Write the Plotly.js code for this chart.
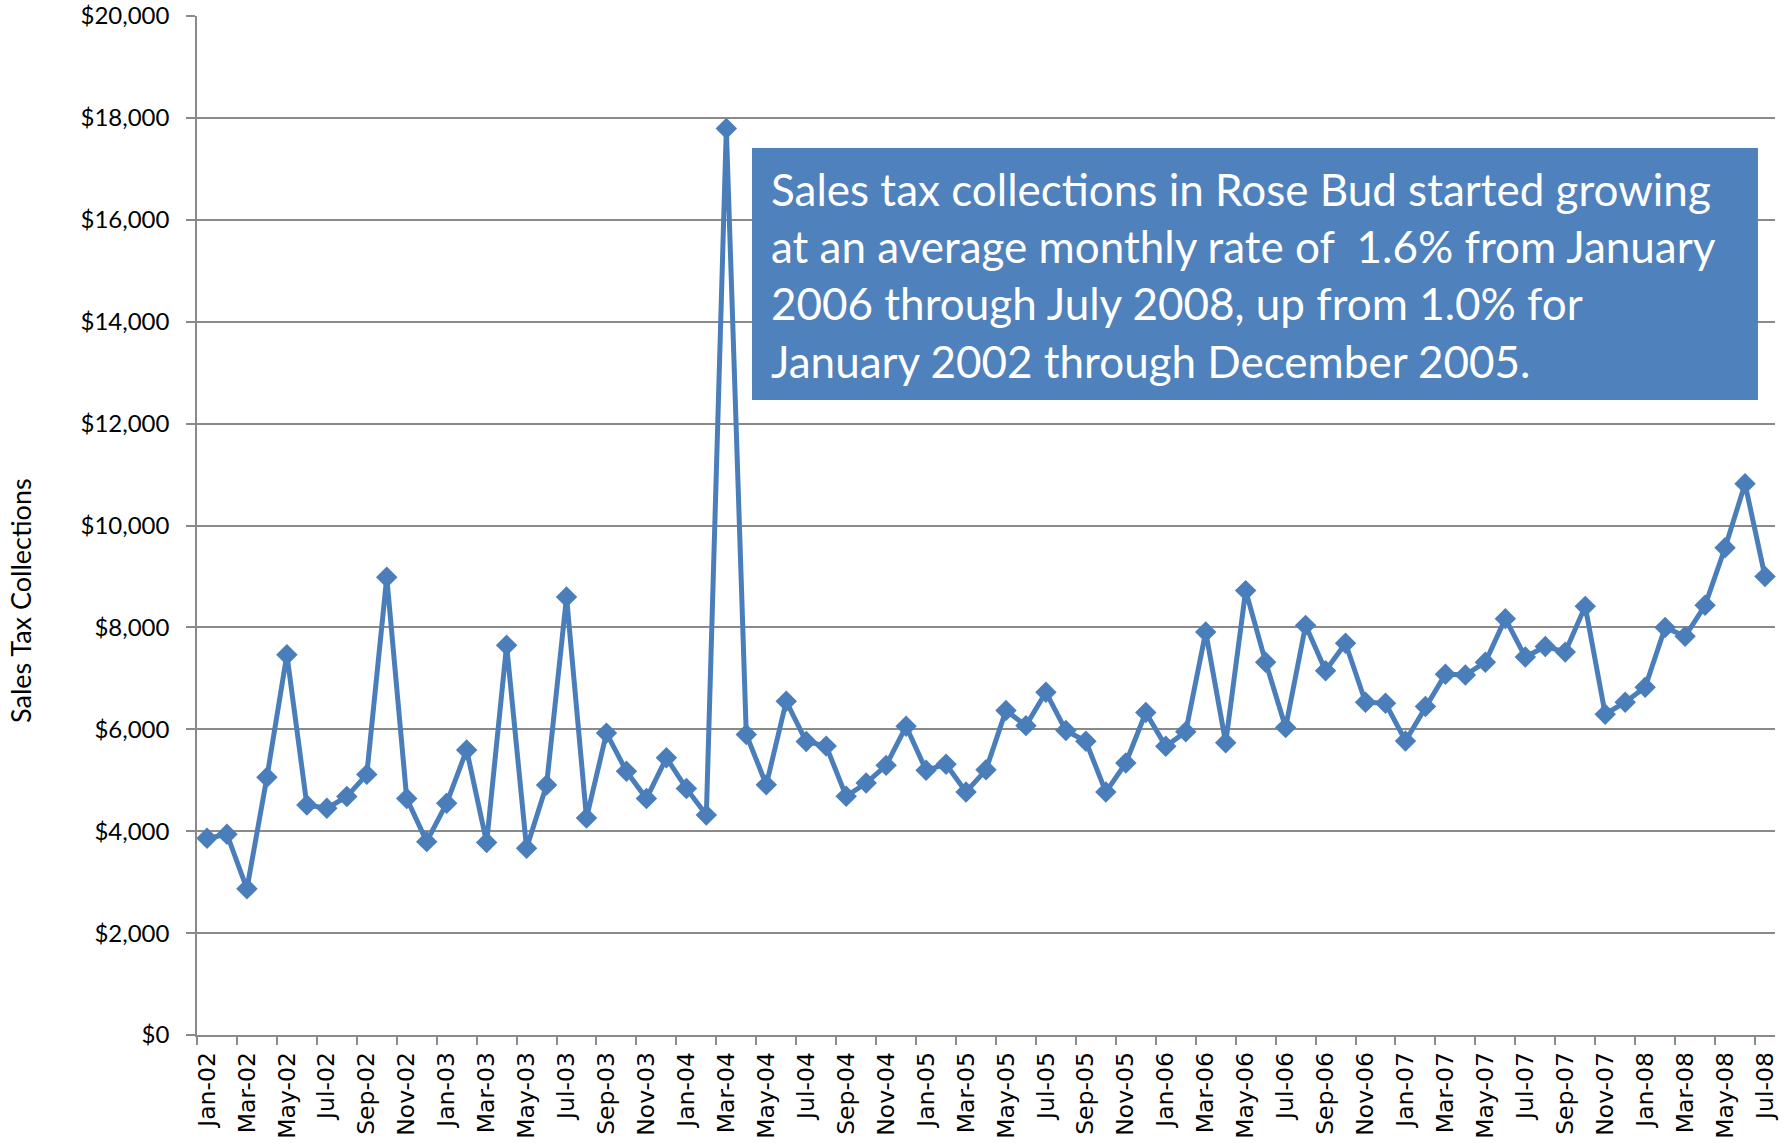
<!DOCTYPE html>
<html>
<head>
<meta charset="utf-8">
<script src="https://cdn.plot.ly/plotly-3.0.1.min.js"></script>
<style>
  html, body { margin: 0; padding: 0; background: #ffffff; }
  #chart { width: 1785px; height: 1144px; }
</style>
</head>
<body>
<div id="chart"></div>
<script>
// Monthly categories, Jan-02 .. Jul-08
const months = [
  "Jan-02","Feb-02","Mar-02","Apr-02","May-02","Jun-02","Jul-02","Aug-02","Sep-02","Oct-02","Nov-02","Dec-02",
  "Jan-03","Feb-03","Mar-03","Apr-03","May-03","Jun-03","Jul-03","Aug-03","Sep-03","Oct-03","Nov-03","Dec-03",
  "Jan-04","Feb-04","Mar-04","Apr-04","May-04","Jun-04","Jul-04","Aug-04","Sep-04","Oct-04","Nov-04","Dec-04",
  "Jan-05","Feb-05","Mar-05","Apr-05","May-05","Jun-05","Jul-05","Aug-05","Sep-05","Oct-05","Nov-05","Dec-05",
  "Jan-06","Feb-06","Mar-06","Apr-06","May-06","Jun-06","Jul-06","Aug-06","Sep-06","Oct-06","Nov-06","Dec-06",
  "Jan-07","Feb-07","Mar-07","Apr-07","May-07","Jun-07","Jul-07","Aug-07","Sep-07","Oct-07","Nov-07","Dec-07",
  "Jan-08","Feb-08","Mar-08","Apr-08","May-08","Jun-08","Jul-08"
];

// Sales tax collections ($)
const collections = [
  3860, 3940, 2870, 5060, 7465, 4515, 4450, 4680, 5115, 8985, 4640, 3795,
  4550, 5595, 3780, 7650, 3665, 4905, 8595, 4260, 5925, 5175, 4640, 5440,
  4840, 4320, 17790, 5900, 4910, 6550, 5760, 5670, 4685, 4945, 5292, 6058,
  5195, 5315, 4770, 5205, 6370, 6072, 6728, 5975, 5764, 4768, 5338, 6330,
  5666, 5950, 7910, 5735, 8722, 7318, 6035, 8040, 7148, 7690, 6532, 6512,
  5772, 6446, 7082, 7065, 7318, 8172, 7418, 7626, 7515, 8413, 6296, 6531,
  6826, 8000, 7824, 8433, 9562, 10820, 8997
];

// Y-axis ticks
const yTickVals = [0, 2000, 4000, 6000, 8000, 10000, 12000, 14000, 16000, 18000, 20000];
const yTickText = ["$0", "$2,000", "$4,000", "$6,000", "$8,000", "$10,000", "$12,000", "$14,000", "$16,000", "$18,000", "$20,000"];

const yTitle = "Sales Tax Collections";
const noteLines = [
  "Sales tax collections in Rose Bud started growing",
  "at an average monthly rate of\u00A0 1.6% from January",
  "2006 through July 2008, up from 1.0% for",
  "January 2002 through December 2005."
];

const seriesColor = "#4A7EBB";
const gridColor = "#8A8A8A";
const calibriLike = "Lato, 'Open Sans', sans-serif";

const trace = {
  type: "scatter",
  mode: "lines+markers",
  x: months,
  y: collections,
  line: { color: seriesColor, width: 5 },
  marker: { symbol: "diamond", size: 16.5, color: seriesColor, line: { width: 0 } },
  cliponaxis: false,
  hoverinfo: "x+y"
};

const layout = {
  width: 1785,
  height: 1144,
  margin: { l: 197, r: 10, t: 16, b: 109, pad: 0 },
  paper_bgcolor: "#ffffff",
  plot_bgcolor: "#ffffff",
  showlegend: false,
  xaxis: {
    type: "category",
    categoryorder: "array",
    categoryarray: months,
    range: [-0.5, months.length - 0.5],
    tickmode: "linear",
    tick0: 0,
    dtick: 2,
    tickson: "boundaries",
    ticks: "outside",
    ticklen: 8,
    tickwidth: 1.5,
    tickcolor: gridColor,
    tickangle: -90,
    ticklabelstandoff: 6,
    tickfont: { family: "'DejaVu Sans', sans-serif", size: 23.5, color: "#000000" },
    showgrid: false,
    showline: true,
    linecolor: gridColor,
    linewidth: 1.5,
    zeroline: false,
    fixedrange: true
  },
  yaxis: {
    range: [0, 20000],
    tickmode: "array",
    tickvals: yTickVals,
    ticktext: yTickText,
    ticks: "outside",
    ticklen: 9,
    tickwidth: 1.5,
    tickcolor: gridColor,
    ticklabelstandoff: 12,
    tickfont: { family: calibriLike, size: 24, color: "#000000" },
    showgrid: true,
    gridcolor: gridColor,
    gridwidth: 1.5,
    showline: true,
    linecolor: gridColor,
    linewidth: 1.5,
    zeroline: false,
    fixedrange: true
  },
  shapes: [
    {
      type: "rect",
      xref: "paper", yref: "paper",
      x0: 0.3517, x1: 0.9892,
      y0: 0.6232, y1: 0.8705,
      fillcolor: "#4F81BD",
      line: { width: 0 },
      layer: "above"
    }
  ],
  annotations: [
    {
      xref: "paper", yref: "paper",
      x: 0.3622, y: 0.7455,
      xanchor: "left", yanchor: "middle",
      align: "left",
      showarrow: false,
      text: noteLines.join("<br>"),
      font: { family: calibriLike, size: 44, color: "#ffffff" }
    },
    {
      xref: "paper", yref: "paper",
      x: -0.1115, y: 0.426,
      xanchor: "center", yanchor: "middle",
      textangle: -90,
      showarrow: false,
      text: yTitle,
      font: { family: calibriLike, size: 27, color: "#000000" }
    }
  ]
};

Plotly.newPlot("chart", [trace], layout, { displayModeBar: false, responsive: false });
</script>
</body>
</html>
